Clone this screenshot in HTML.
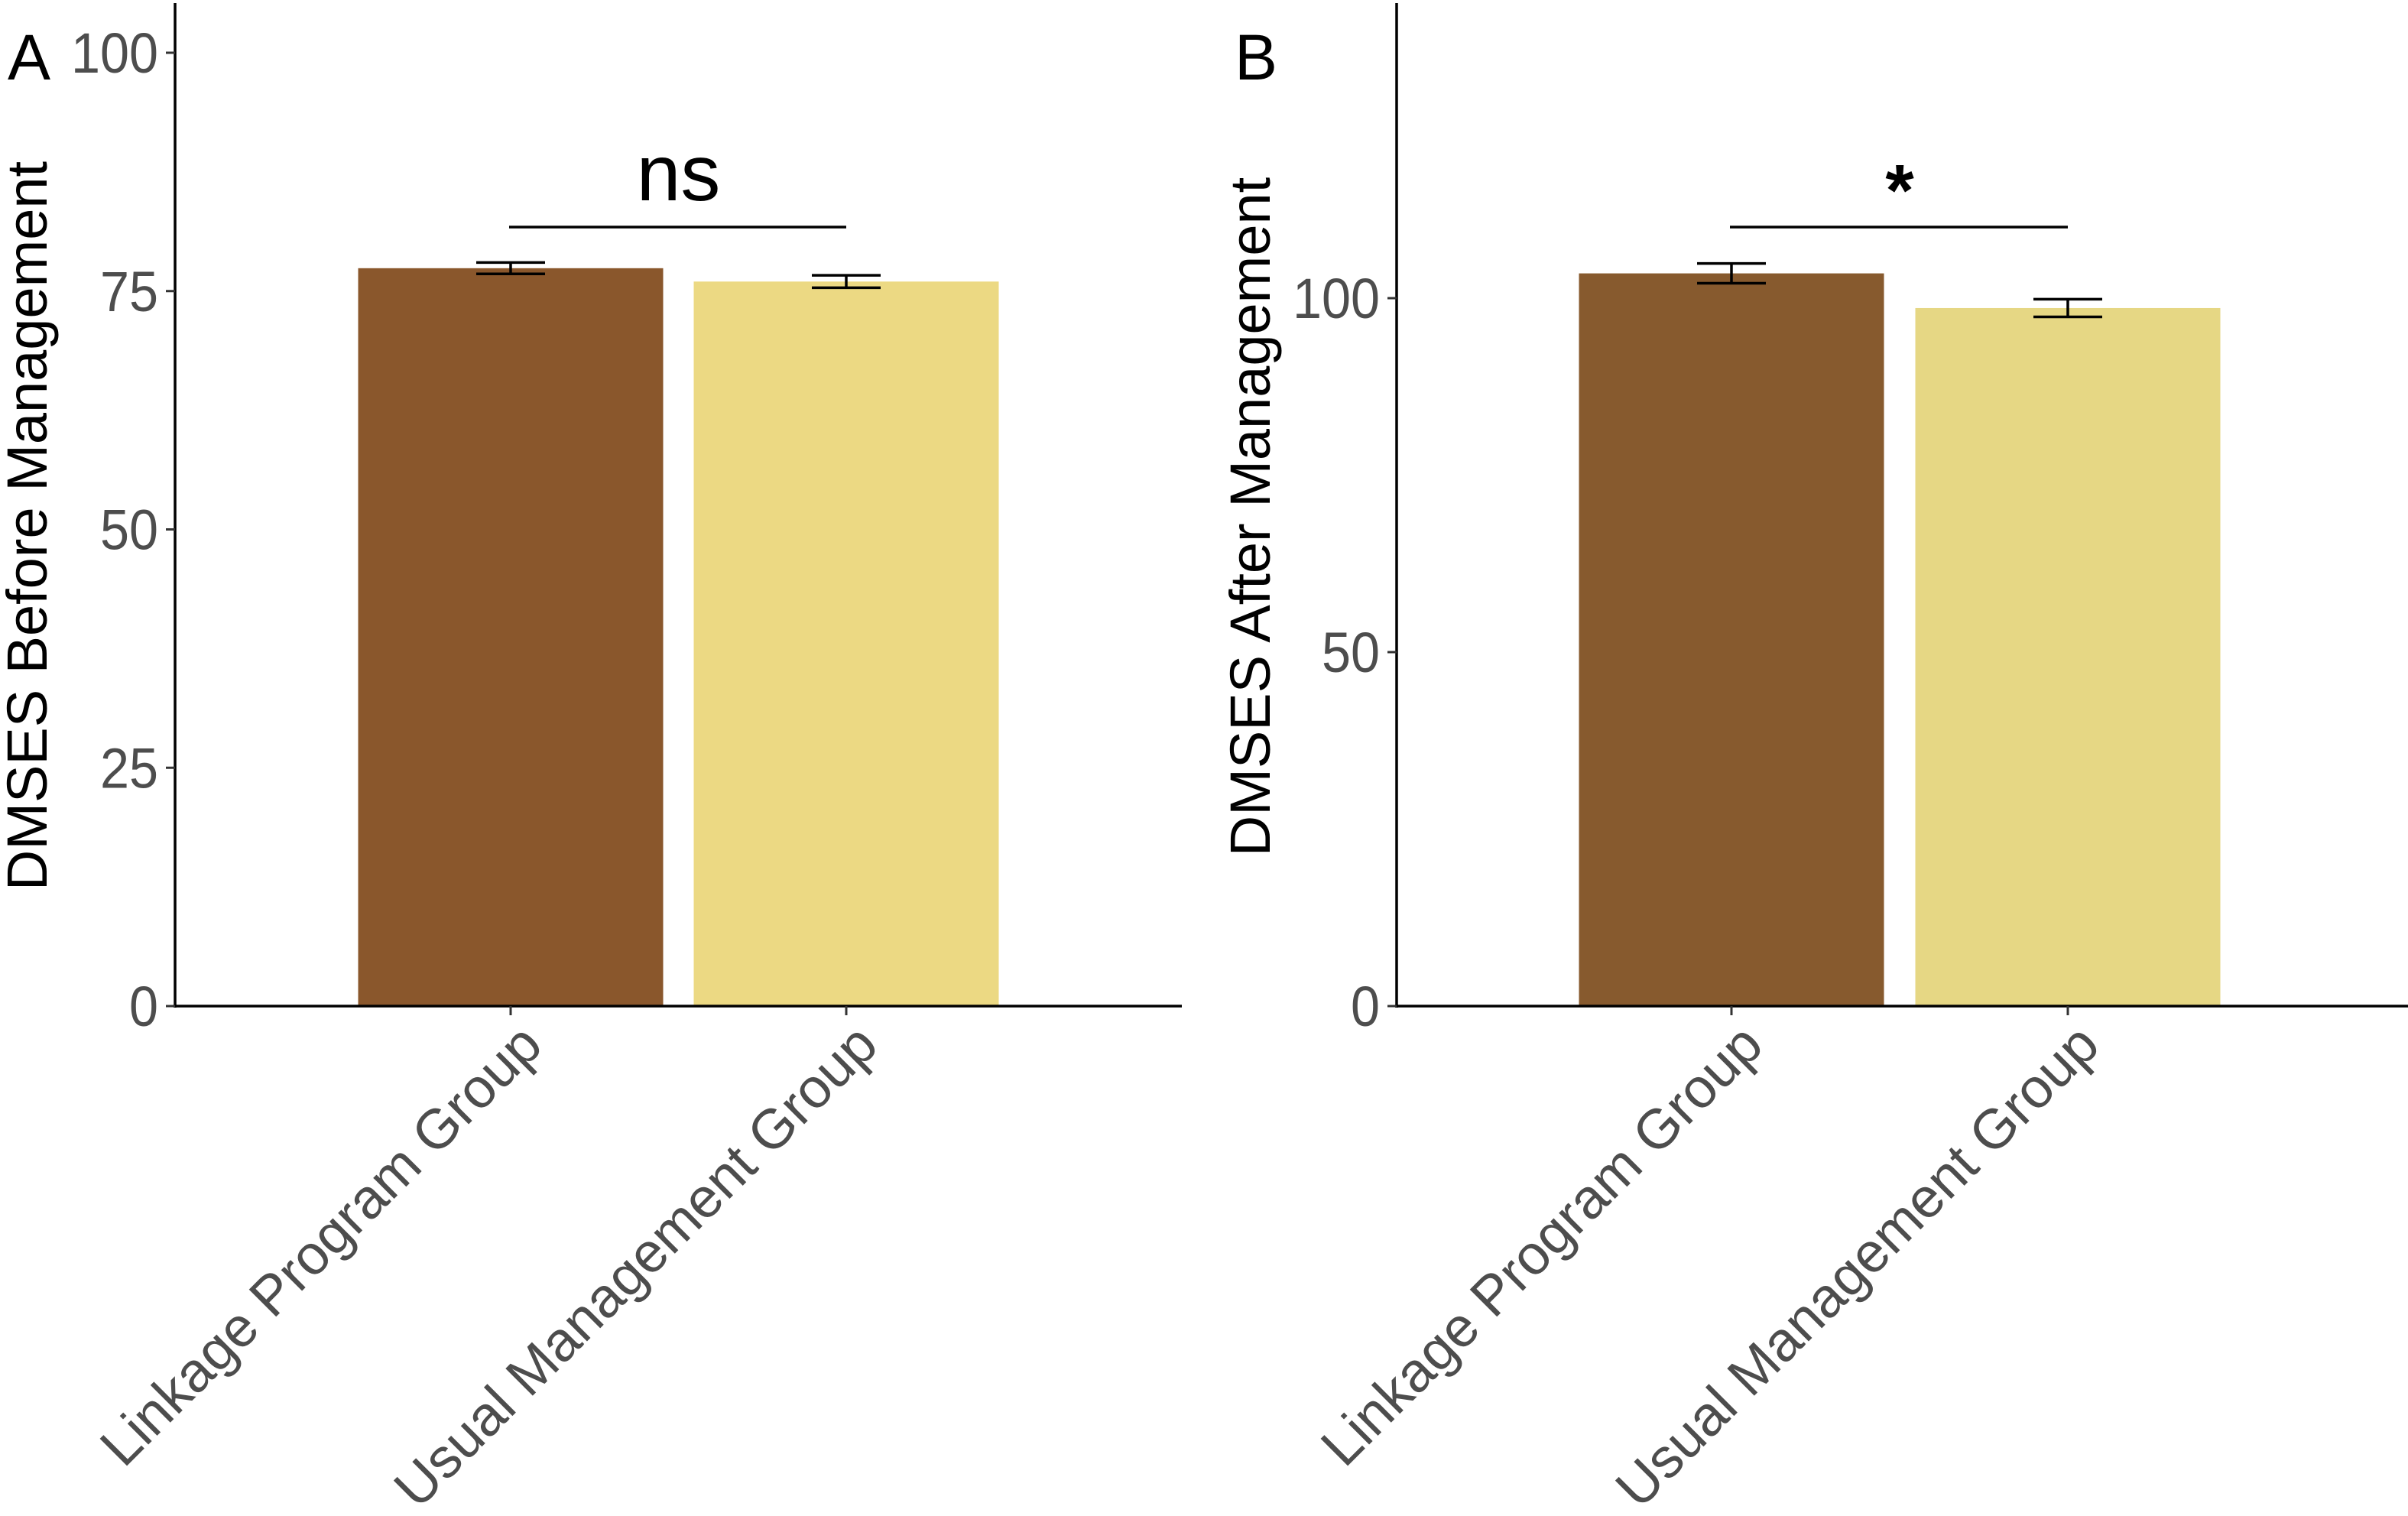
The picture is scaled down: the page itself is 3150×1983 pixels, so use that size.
<!DOCTYPE html>
<html><head><meta charset="utf-8"><style>
html,body{margin:0;padding:0;background:#fff;}
svg{display:block;font-family:"Liberation Sans",Arial,sans-serif;}
</style></head><body>
<svg id="chart" width="3150" height="1983" viewBox="0 0 3150 1983"></svg>
<script>
const categories = ["Linkage Program Group", "Usual Management Group"];
const beforeMeans = [77.4, 76.0];
const beforeErr = [0.6, 0.65];
const afterMeans = [103.5, 98.6];
const afterErr = [1.4, 1.25];
const ticksA = [0, 25, 50, 75, 100];
const ticksB = [0, 50, 100];
const colors = ["#8a572c", "#ecd983"];
const colorsB = ["#875a2e", "#e6d784"];

const NS = "http://www.w3.org/2000/svg";
const svg = document.getElementById("chart");
function mk(tag, attrs, parent) {
  const e = document.createElementNS(NS, tag);
  for (const k in attrs) e.setAttribute(k, attrs[k]);
  (parent || svg).appendChild(e);
  return e;
}

function panel(cfg) {
  const g = mk("g", {});
  
  
  const y = v => cfg.y0 - v * (cfg.y0 - cfg.y1) / cfg.v1;
  const xc = i => cfg.cx[i];
  cfg.means.forEach((m, i) => {
    const r = mk("rect", {x: xc(i) - cfg.bw / 2, y: y(m), width: cfg.bw, height: cfg.y0 - y(m), fill: cfg.colors[i]}, g);
    
    
    const e = cfg.err[i];
    const eg = mk("g", {stroke: "#000", "stroke-width": 3.5}, g);
    
    
    mk("line", {x1: xc(i), x2: xc(i), y1: y(m + e), y2: y(m - e)}, eg);
    mk("line", {x1: xc(i) - 45, x2: xc(i) + 45, y1: y(m + e), y2: y(m + e)}, eg);
    mk("line", {x1: xc(i) - 45, x2: xc(i) + 45, y1: y(m - e), y2: y(m - e)}, eg);
  });
  const ya = mk("line", {x1: cfg.x0, x2: cfg.x0, y1: 4, y2: cfg.y0 + 2, stroke: "#000", "stroke-width": 3.5}, g);
  
  
  const xa = mk("line", {x1: cfg.x0 - 2, x2: cfg.xEnd, y1: cfg.y0, y2: cfg.y0, stroke: "#000", "stroke-width": 3.5}, g);
  
  
  cfg.ticks.forEach(t => {
    mk("line", {x1: cfg.x0 - 12, x2: cfg.x0, y1: y(t), y2: y(t), stroke: "#333", "stroke-width": 3}, g);
    const tl = mk("text", {x: cfg.x0 - 22, y: y(t) + 26, "text-anchor": "end", "font-size": 74, fill: "#4d4d4d", textLength: String(t).length * 38, lengthAdjust: "spacingAndGlyphs"}, g);
    tl.textContent = t;
    
    
  });
  categories.forEach((c, i) => {
    mk("line", {x1: xc(i), x2: xc(i), y1: cfg.y0, y2: cfg.y0 + 12, stroke: "#333", "stroke-width": 3}, g);
    const tx = xc(i) + 8, ty = 1334;
    const t = mk("text", {x: tx, y: ty, "text-anchor": "end", "dominant-baseline": "hanging", "font-size": 73, fill: "#4d4d4d", transform: `rotate(-45 ${tx} ${ty})`}, g);
    t.textContent = c;
    
    
  });
  const yt = mk("text", {x: cfg.titleX, y: cfg.titleY, "text-anchor": "middle", "font-size": 74, fill: "#000", transform: `rotate(-90 ${cfg.titleX} ${cfg.titleY})`}, g);
  yt.textContent = cfg.title;
  
  
  const pl = mk("text", {x: cfg.labelX, y: 104, "font-size": 84, fill: "#000"}, g);
  pl.textContent = cfg.label;
  
  
  const sl = mk("line", {x1: xc(0) - 2, x2: xc(1), y1: 297, y2: 297, stroke: "#000", "stroke-width": 3.5}, g);
  
  
  const st = mk("text", {x: (xc(0) + xc(1)) / 2, y: cfg.sigY, "text-anchor": "middle", "font-size": cfg.sigSize, "font-weight": cfg.sigWeight, fill: "#000"}, g);
  st.textContent = cfg.sig;
  
  
}

panel({name: "panel-a", x0: 229, xEnd: 1546, y0: 1316, y1: 69, v1: 100, cx: [668, 1107], bw: 399,
  means: beforeMeans, err: beforeErr, ticks: ticksA, colors: colors,
  title: "DMSES Before Management", titleX: 61, titleY: 688, label: "A", labelX: 10,
  sig: "ns", sigY: 262, sigSize: 104, sigWeight: "normal"});
panel({name: "panel-b", x0: 1827, xEnd: 3150, y0: 1316, y1: 390, v1: 100, cx: [2265, 2705], bw: 399,
  means: afterMeans, err: afterErr, ticks: ticksB, colors: colorsB,
  title: "DMSES After Management", titleX: 1661, titleY: 676, label: "B", labelX: 1615,
  sig: "*", sigY: 282, sigSize: 96, sigWeight: "bold"});
</script>
</body></html>
